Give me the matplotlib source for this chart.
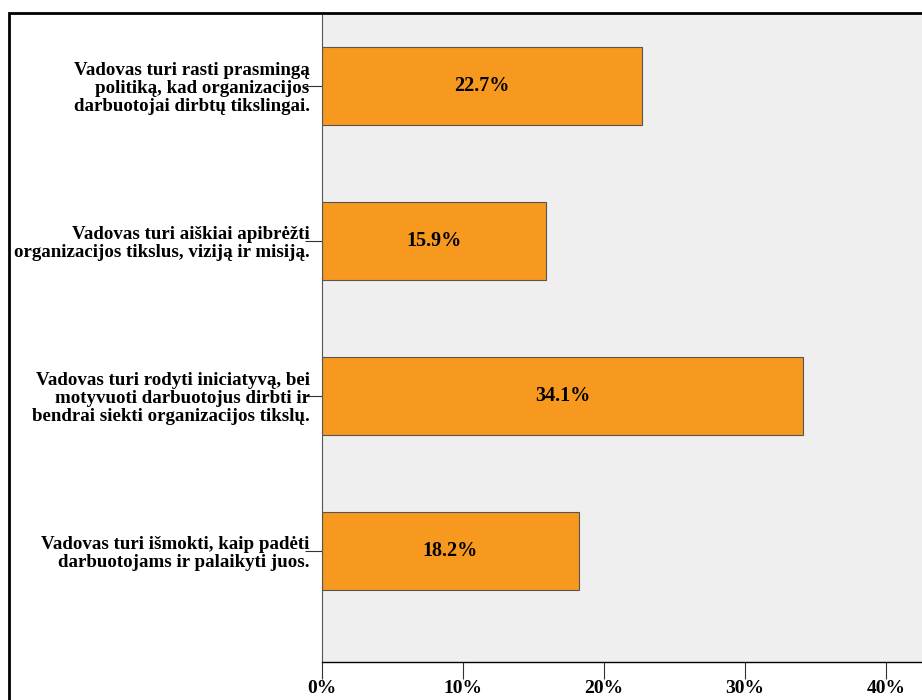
import matplotlib.pyplot as plt
from matplotlib.patches import Rectangle

categories = [
    "Vadovas turi rasti prasmingą\npolitiką, kad organizacijos\ndarbuotojai dirbtų tikslingai.",
    "Vadovas turi aiškiai apibrėžti\norganizacijos tikslus, viziją ir misiją.",
    "Vadovas turi rodyti iniciatyvą, bei\nmotyvuoti darbuotojus dirbti ir\nbendrai siekti organizacijos tikslų.",
    "Vadovas turi išmokti, kaip padėti\ndarbuotojams ir palaikyti juos.",
]
percent = [22.7, 15.9, 34.1, 18.2]
xticks = [0, 10, 20, 30, 40]

plt.rcParams['font.family'] = ['Liberation Serif', 'DejaVu Serif']
plt.rcParams['font.weight'] = 'bold'

fig = plt.figure(figsize=(9.22, 7.0), dpi=100)
W, H = 922, 700
ax = fig.add_axes([322 / W, 1 - 662 / H, 1 - 322 / W, (662 - 14) / H])
ax.set_facecolor('#efefef')

pos = list(range(len(categories)))
bars = ax.barh(pos, percent, height=0.5, color='#f7991e', edgecolor='#555555', linewidth=0.8)
for b, v in zip(bars, percent):
    ax.text(v / 2, b.get_y() + b.get_height() / 2, f"{v}%", ha='center', va='center',
            fontsize=14.5, fontweight='bold')

ax.set_xlim(0, 42.55)
ax.set_ylim(3.716, -0.465)
ax.set_xticks(xticks)
ax.set_xticklabels([f"{t}%" for t in xticks], fontsize=14, fontweight='bold')
ax.set_yticks(pos)
ax.set_yticklabels(categories, fontsize=13.6, fontweight='bold', linespacing=1.09)
ax.tick_params(axis='y', length=12, width=0.8, color='#333333', pad=-3)
ax.tick_params(axis='x', length=12, width=0.8, color='#333333', pad=1)

for s in ['top', 'right']:
    ax.spines[s].set_visible(False)
ax.spines['left'].set_color('#555555')
ax.spines['left'].set_linewidth(0.8)
ax.spines['bottom'].set_linewidth(1.0)

# outer frame
fig.patches.append(Rectangle((9 / W, -0.01), 1.0, 1 - 13 / H + 0.01, transform=fig.transFigure,
                             fill=False, edgecolor='black', linewidth=2, zorder=10))

fig.savefig('out.png', dpi=100)
